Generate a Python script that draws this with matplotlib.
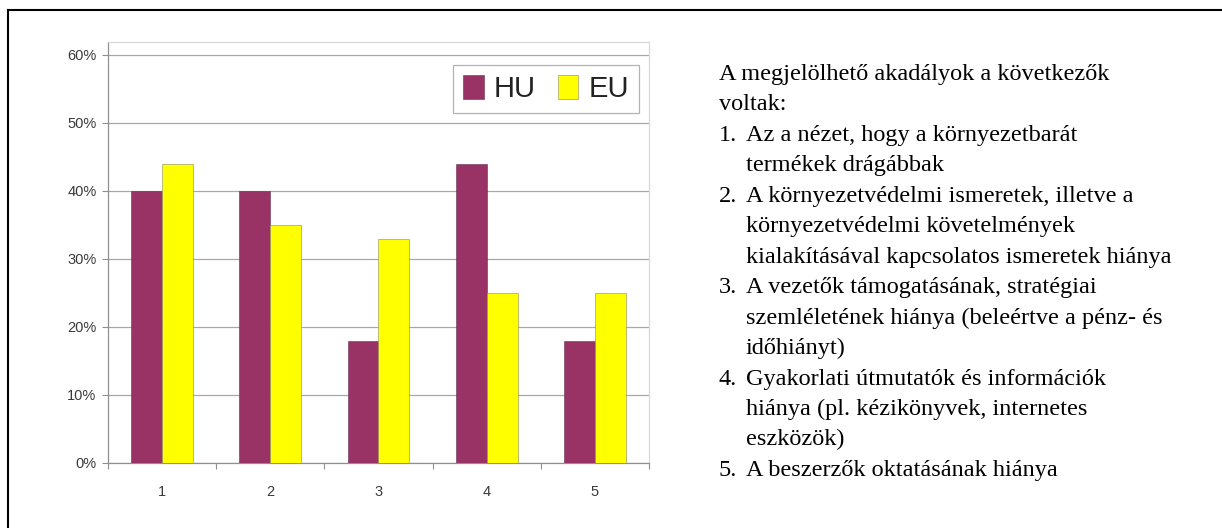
import matplotlib
matplotlib.use("Agg")
import matplotlib.pyplot as plt
from matplotlib.lines import Line2D
from matplotlib.ticker import FixedLocator, PercentFormatter
import numpy as np

# ---- data ----
categories = ["1", "2", "3", "4", "5"]
hu_values = [0.40, 0.40, 0.18, 0.44, 0.18]
eu_values = [0.44, 0.35, 0.33, 0.25, 0.25]
series_labels = ["HU", "EU"]
y_ticks = [0.0, 0.1, 0.2, 0.3, 0.4, 0.5, 0.6]

intro_lines = ["A megjelölhető akadályok a következők", "voltak:"]
item_numbers = ["1.", "2.", "3.", "4.", "5."]
item_lines = [
    ["Az a nézet, hogy a környezetbarát", "termékek drágábbak"],
    ["A környezetvédelmi ismeretek, illetve a", "környezetvédelmi követelmények",
     "kialakításával kapcsolatos ismeretek hiánya"],
    ["A vezetők támogatásának, stratégiai", "szemléletének hiánya (beleértve a pénz- és",
     "időhiányt)"],
    ["Gyakorlati útmutatók és információk", "hiánya (pl. kézikönyvek, internetes",
     "eszközök)"],
    ["A beszerzők oktatásának hiánya"],
]

HU_COLOR = "#993366"
EU_COLOR = "#FFFF00"

W, H = 1222, 528
fig = plt.figure(figsize=(W / 100, H / 100), dpi=100)
fig.patch.set_facecolor("white")

# axes placement in pixels
ax_left, ax_right, ax_top, ax_bottom = 108, 649, 42, 463
ax = fig.add_axes([ax_left / W, 1 - ax_bottom / H,
                   (ax_right - ax_left) / W, (ax_bottom - ax_top) / H])

x = np.arange(len(categories))
bw = 0.286
ax.bar(x - bw / 2, hu_values, bw, color=HU_COLOR, edgecolor="#6a3050",
       linewidth=0.4, label=series_labels[0], zorder=3)
ax.bar(x + bw / 2, eu_values, bw, color=EU_COLOR, edgecolor="#8a8a60",
       linewidth=0.4, label=series_labels[1], zorder=3)

ax.set_xlim(-0.5, len(categories) - 0.5)
ax.set_ylim(0, 0.619)

ax.yaxis.set_major_locator(FixedLocator(y_ticks))
ax.yaxis.set_major_formatter(PercentFormatter(1.0, decimals=0))
ax.grid(axis="y", color="#a8a8a8", linewidth=0.9, zorder=0)
ax.set_axisbelow(True)

ax.set_xticks(x)
ax.set_xticklabels(categories)
ax.set_xticks(np.arange(-0.5, len(categories)), minor=True)

label_color = "#3a3a3a"
ax.tick_params(axis="y", length=4.3, width=0.8, color="#909090",
               labelsize=10.5, labelcolor=label_color, pad=4)
ax.tick_params(axis="x", which="major", length=0, labelsize=10.5,
               labelcolor=label_color, pad=16)
ax.tick_params(axis="x", which="minor", length=4, width=0.8, color="#909090")

for side in ["left", "bottom"]:
    ax.spines[side].set_color("#909090")
    ax.spines[side].set_linewidth(0.9)
for side in ["top", "right"]:
    ax.spines[side].set_color("#d8d8d8")
    ax.spines[side].set_linewidth(0.9)

for lab in ax.get_xticklabels() + ax.get_yticklabels():
    lab.set_family(["Liberation Sans", "DejaVu Sans"])

leg = ax.legend(loc="upper right", bbox_to_anchor=((639 - ax_left) / (ax_right - ax_left),
                                                    (ax_bottom - 65) / (ax_bottom - ax_top)),
                borderaxespad=0, ncol=2, frameon=True, fancybox=False,
                prop={"family": ["Liberation Sans", "DejaVu Sans"], "size": 21},
                handlelength=0.7, handleheight=0.85, handletextpad=0.35,
                columnspacing=0.75, borderpad=0.35)
leg.get_frame().set_edgecolor("#a0a0a0")
leg.get_frame().set_linewidth(0.9)
for t in leg.get_texts():
    t.set_color("#222222")

# outer frame (top and left edges visible)
fig.add_artist(Line2D([8 / W, 1.0], [1 - 10 / H, 1 - 10 / H], color="black",
                      linewidth=1.5, transform=fig.transFigure))
fig.add_artist(Line2D([8 / W, 8 / W], [1 - 10 / H, 0.0], color="black",
                      linewidth=1.5, transform=fig.transFigure))

# right-side text
text_font = {"family": ["Liberation Serif", "DejaVu Serif"], "size": 17.5, "color": "black"}
x_num = 719
x_txt = 746
base0 = 80
step = 30.46
row = 0
for line in intro_lines:
    fig.text(x_num / W, 1 - (base0 + row * step) / H, line, va="baseline", ha="left", **text_font)
    row += 1
for num, lines in zip(item_numbers, item_lines):
    fig.text(x_num / W, 1 - (base0 + row * step) / H, num, va="baseline", ha="left", **text_font)
    for line in lines:
        fig.text(x_txt / W, 1 - (base0 + row * step) / H, line, va="baseline", ha="left", **text_font)
        row += 1

fig.savefig("out.png", dpi=100)
